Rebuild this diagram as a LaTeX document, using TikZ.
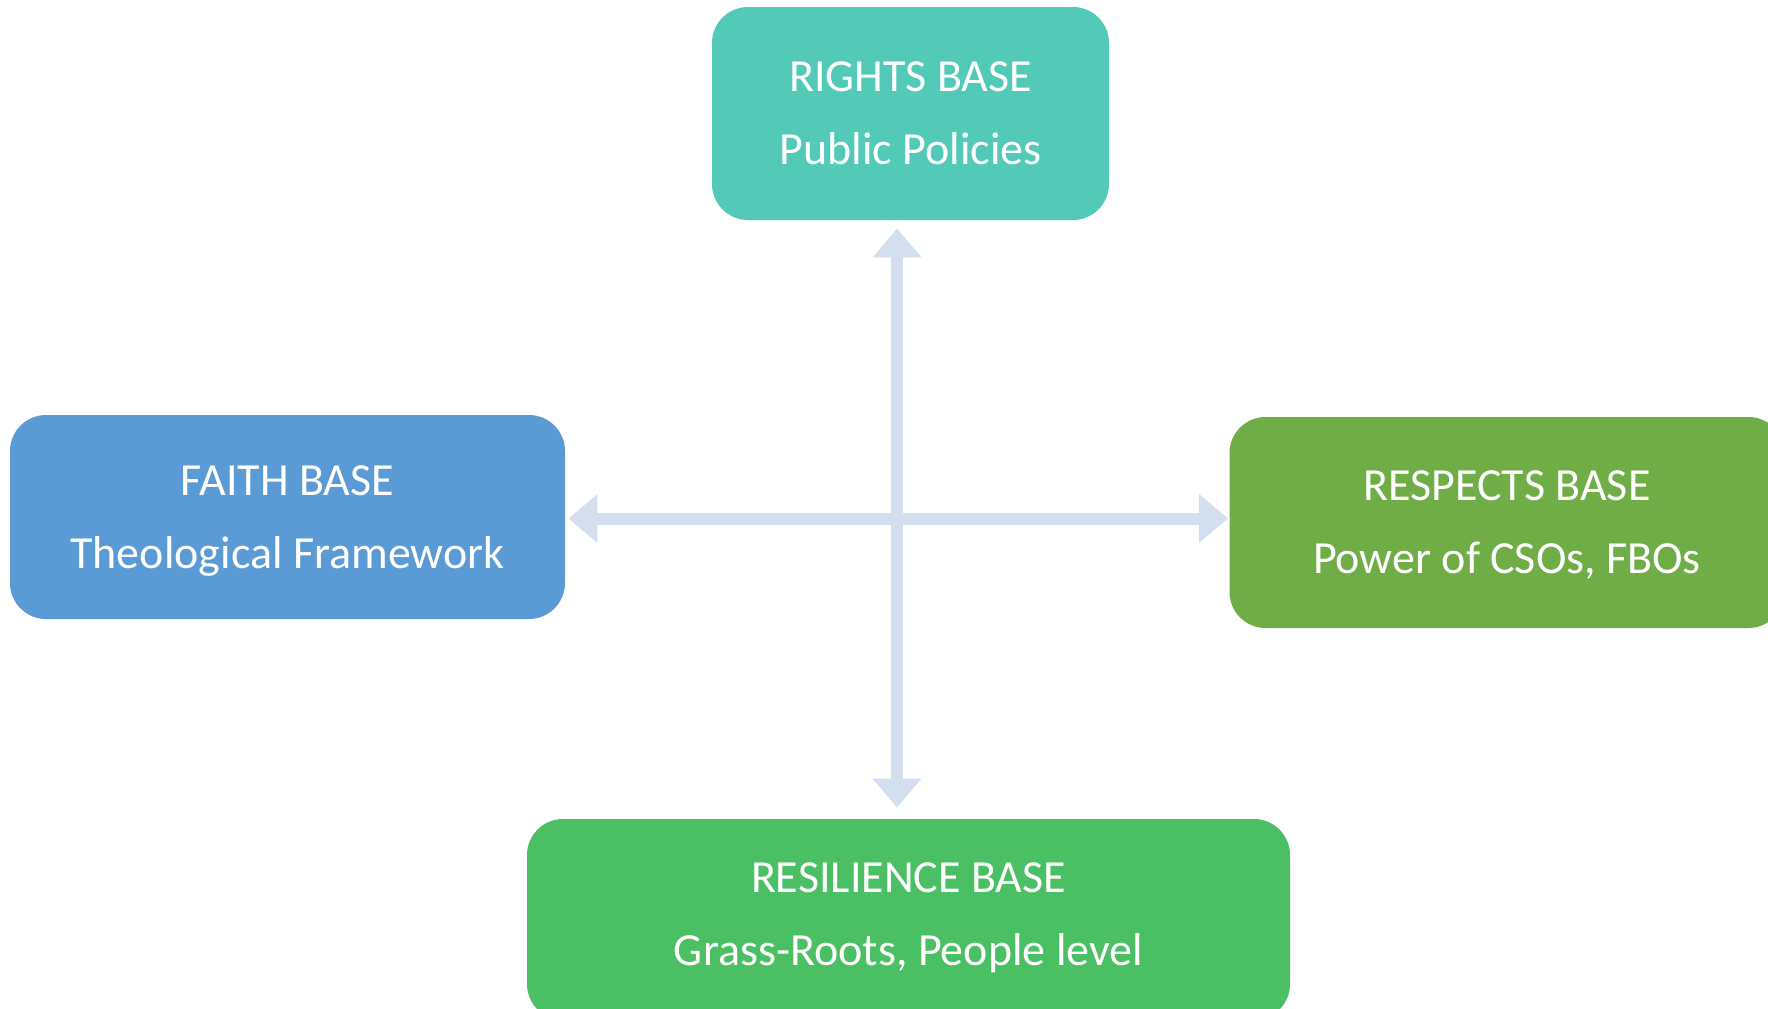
\documentclass[tikz,border=0pt]{standalone}
\usepackage{fontspec}
\setmainfont{Carlito}
\usetikzlibrary{arrows.meta}
\definecolor{rightsc}{HTML}{53CAB7}
\definecolor{faithc}{HTML}{5B9BD5}
\definecolor{respectc}{HTML}{70AD47}
\definecolor{resilc}{HTML}{4ABF63}
\definecolor{linkc}{HTML}{D3DEEF}
\tikzset{x=0.5pt, y=-0.5pt,
	base/.style={rounded corners=18pt, text=white, align=center, text depth=0pt, inner sep=0pt, font=\fontsize{23}{36.5}\selectfont},
	link/.style={draw=linkc, line width=6pt, {Triangle[width=23.5pt,length=14.5pt]}-{Triangle[width=23.5pt,length=14.5pt]}}}

\begin{document}
\begin{tikzpicture}
	\useasboundingbox (0,0) rectangle (1768,1008);
	\node[base, fill=rightsc, minimum width=198.5pt, minimum height=106.5pt] (rights) at (910.5,113.5) {RIGHTS BASE\\Public Policies};
	\node[base, fill=faithc, minimum width=277.5pt, minimum height=102pt] (faith) at (287.5,517) {FAITH BASE\\Theological Framework};
	\node[base, fill=respectc, minimum width=277.5pt, minimum height=105.5pt] (respects) at (1507,522.5) {RESPECTS BASE\\Power of CSOs, FBOs};
	\node[base, fill=resilc, minimum width=381.5pt, minimum height=100.5pt, text depth=5.5pt] (resil) at (908.5,919.5) {RESILIENCE BASE\\Grass-Roots, People level};
	\coordinate (hub) at (897,518.5);
	\draw[link, shorten <=4pt, shorten >=5.5pt] (rights.south -| hub) -- (resil.north -| hub);
	\draw[link, shorten <=1.5pt, shorten >=0.5pt] (faith.east |- hub) -- (respects.west |- hub);
\end{tikzpicture}
\end{document}
